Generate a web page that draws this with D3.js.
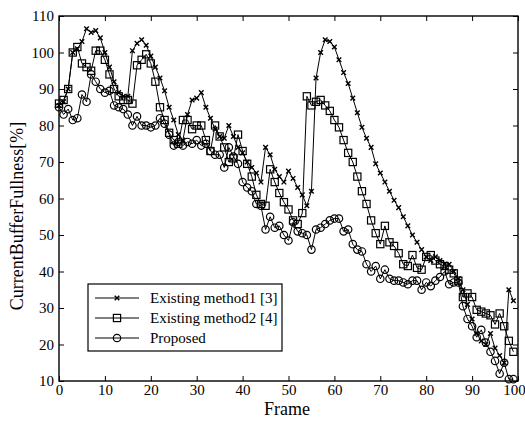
<!DOCTYPE html>
<html><head><meta charset="utf-8">
<script src="https://cdn.jsdelivr.net/npm/d3@7/dist/d3.min.js"></script>
<style>body{margin:0;background:#fff}svg{display:block}text{font-family:"Liberation Serif","Times New Roman",serif;fill:#000}</style>
</head><body><svg id="c" width="525" height="421"></svg>
<script>
const frames = d3.range(0, 100);
const method1 = [85.5,86.5,90,100,101,103,106.5,105.5,106,104,100,96,92,89,88,88,100.5,102.5,103.5,102,
99,96,93,89.5,85,81.5,77.5,76,83,87,87.5,89,85,82,79,77,76.5,80,77,74,
72.5,70,68.5,67,64.5,74,72,68,66,64.5,67.5,65.5,63,61,58,62,93,100,103.5,103,
101.5,98,94.5,91.5,87.5,83.5,79.5,76.5,74,69.5,67,64.5,62,59.5,57.5,55,52.5,50,48,46,
44,43,44,43,42,42,40,38,35,31,27,23,21,20,23,19,17,15,35,32];
const method2 = [86,87,90,100,101.5,97,96,95,100.5,100.5,98,94,90,88,87,87,86,96.5,98,99.5,
97,92,85,81.5,78,76,75,81.5,81.5,79,80,80,76,73,80,77,74,70,71,77.5,
73,69.5,66,61,58.5,58,68,64.5,61.5,59,57,54,53,56,88,85.5,86.5,87,85.5,84,
81.5,79.5,76,72.5,70,66,62,58.5,54,50.5,47.5,52.5,48,47,45,42,41.5,44.5,41,40.5,
44,44.5,43,42,41.5,40.5,39.5,37.5,33,34,33,29.5,29,28.5,28,25.5,28.5,25,21,18];
const proposed = [85,83,84.5,81.5,82,88.5,86.5,94,92,90,89,89.5,85.5,85,84.5,83,80,82.5,80,80,
79.5,80,82,80.5,77.5,74.5,75.5,74.5,75.5,75,76,74.5,75,73,72,72,68.5,74,71.5,69.5,
64.5,63,62,58.5,58,51.5,55,52,52.5,50,48.5,53.5,51,50.5,50,46,51.5,52,53,54,
54.5,54.5,51,51.5,47.5,46,45.5,42,40,41.5,38,40.5,38,37.5,37.5,37,36.5,37.5,37.5,35,
37,36,37.5,38.5,40,36.5,37,37,30.5,27,25,22,24,20.5,18,15.5,12,15,10.5,10.5];
const seriesNames = ["Existing method1 [3]", "Existing method2 [4]", "Proposed"];
const markers = ["cross", "square", "circle"];
const xTicks = d3.range(0, 101, 10);
const yTicks = d3.range(10, 111, 10);

const svg = d3.select("#c");
const L = 59, R = 518, T = 16, B = 381;
const x = d3.scaleLinear().domain([0, 100]).range([L, R]);
const y = d3.scaleLinear().domain([10, 110]).range([B, T]);

const series = [method1, method2, proposed];
const line = d3.line().x((d, i) => x(frames[i])).y(d => y(d));

function drawMarker(g, type, cx, cy) {
  if (type === "cross") {
    const s = 2.3;
    g.append("path").attr("d", `M${cx-s},${cy-s}L${cx+s},${cy+s}M${cx-s},${cy+s}L${cx+s},${cy-s}`)
      .attr("stroke", "#000").attr("stroke-width", 1.4);
  } else if (type === "square") {
    const s = 3.6;
    g.append("rect").attr("x", cx - s).attr("y", cy - s).attr("width", 2*s).attr("height", 2*s)
      .attr("fill", "none").attr("stroke", "#000").attr("stroke-width", 1.2);
  } else {
    g.append("circle").attr("cx", cx).attr("cy", cy).attr("r", 3.7)
      .attr("fill", "none").attr("stroke", "#000").attr("stroke-width", 1.2);
  }
}

const plot = svg.append("g");
series.forEach((s, k) => {
  plot.append("path").attr("d", line(s)).attr("fill", "none").attr("stroke", "#000").attr("stroke-width", 1);
  const mg = plot.append("g");
  s.forEach((v, i) => drawMarker(mg, markers[k], x(frames[i]), y(v)));
});

// axes
const ax = svg.append("g");
const xb = ax.append("g").attr("transform", `translate(0,${B})`)
  .call(d3.axisBottom(x).tickValues(xTicks).tickSize(-5).tickPadding(3));
const yl = ax.append("g").attr("transform", `translate(${L},0)`)
  .call(d3.axisLeft(y).tickValues(yTicks).tickSize(-5).tickPadding(5));
const xt = ax.append("g").attr("transform", `translate(0,${T})`)
  .call(d3.axisTop(x).tickValues(xTicks).tickSize(-5).tickFormat(""));
const yr = ax.append("g").attr("transform", `translate(${R},0)`)
  .call(d3.axisRight(y).tickValues(yTicks).tickSize(-5).tickFormat(""));
ax.selectAll(".domain").remove();
ax.selectAll(".tick line").attr("stroke", "#000").attr("stroke-width", 1);
ax.selectAll(".tick text").style("font-family", '"Liberation Serif", serif').style("font-size", "15px").attr("fill", "#000");
xb.selectAll(".tick text").filter(d => d === 100).attr("dx", -4);
ax.append("rect").attr("x", L).attr("y", T).attr("width", R - L).attr("height", B - T)
  .attr("fill", "none").attr("stroke", "#000").attr("stroke-width", 1.4);

svg.append("text").attr("x", 287).attr("y", 415).attr("text-anchor", "middle")
  .style("font-size", "18px").text("Frame");
svg.append("text").attr("transform", `translate(23,216) rotate(-90)`).attr("text-anchor", "middle")
  .style("font-size", "18px").text("CurrentBufferFullness[%]");

// legend
const lg = svg.append("g");
lg.append("rect").attr("x", 88).attr("y", 284).attr("width", 194).attr("height", 67)
  .attr("fill", "#fff").attr("stroke", "#000").attr("stroke-width", 1.2);
seriesNames.forEach((n, k) => {
  const yy = 298 + k * 20;
  lg.append("line").attr("x1", 95).attr("x2", 139).attr("y1", yy).attr("y2", yy).attr("stroke", "#000").attr("stroke-width", 1);
  drawMarker(lg, markers[k], 117, yy);
  lg.append("text").attr("x", 150).attr("y", yy + 5).style("font-size", "15px").text(n);
});
</script></body></html>
